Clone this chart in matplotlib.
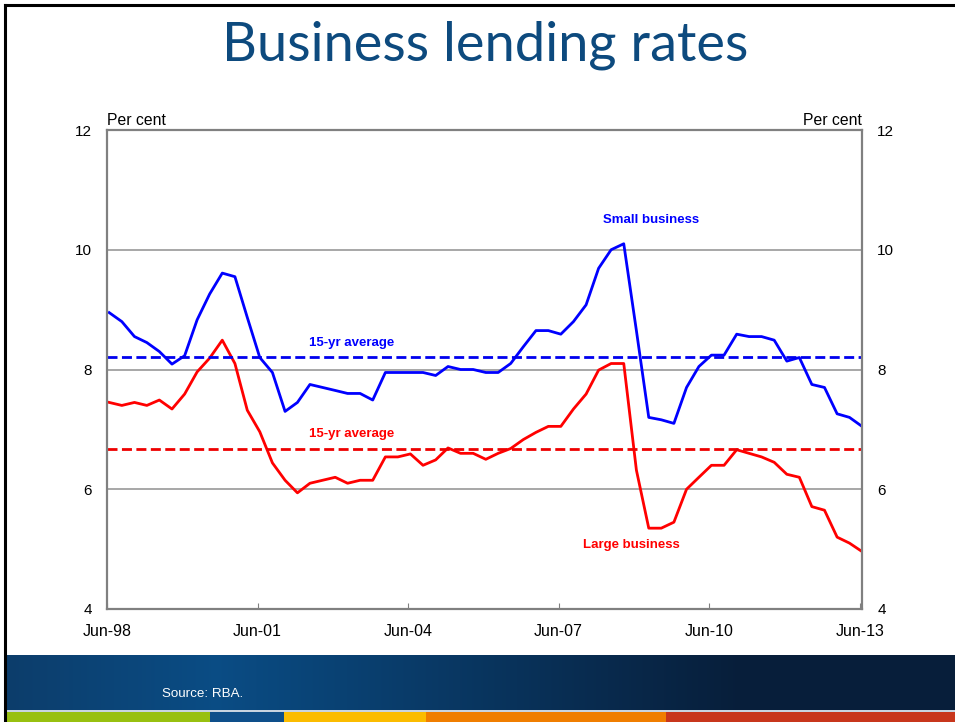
import numpy as np
import pandas as pd
import matplotlib
matplotlib.use('Agg')
import matplotlib.pyplot as plt
from matplotlib.patches import Rectangle
from matplotlib.lines import Line2D

# quarterly, Jun-98 to Jun-13
dates = pd.date_range('1998-06-15', periods=61, freq='3MS')

small_business = [8.95, 8.80, 8.55, 8.45, 8.30, 8.09, 8.23, 8.83, 9.26, 9.61,
                  9.55, 8.87, 8.20, 7.95, 7.30, 7.45, 7.75, 7.70, 7.65, 7.60,
                  7.60, 7.49, 7.95, 7.95, 7.95, 7.95, 7.90, 8.05, 8.00, 8.00,
                  7.95, 7.95, 8.10, 8.38, 8.65, 8.65, 8.59, 8.80, 9.08, 9.69,
                  10.00, 10.10, 8.65, 7.20, 7.16, 7.10, 7.70, 8.05, 8.24, 8.24,
                  8.59, 8.55, 8.55, 8.49, 8.14, 8.20, 7.75, 7.70, 7.26, 7.20,
                  7.05]
large_business = [7.45, 7.40, 7.45, 7.40, 7.49, 7.34, 7.59, 7.96, 8.19, 8.49,
                  8.10, 7.32, 6.96, 6.44, 6.15, 5.94, 6.10, 6.15, 6.20, 6.10,
                  6.15, 6.15, 6.54, 6.54, 6.59, 6.40, 6.49, 6.69, 6.60, 6.60,
                  6.50, 6.60, 6.68, 6.83, 6.95, 7.05, 7.05, 7.34, 7.59, 7.99,
                  8.10, 8.10, 6.32, 5.35, 5.35, 5.45, 6.00, 6.20, 6.40, 6.40,
                  6.66, 6.60, 6.54, 6.45, 6.25, 6.20, 5.71, 5.65, 5.20, 5.10,
                  4.96]
small_avg = 8.21
large_avg = 6.67

y_ticks = [4, 6, 8, 10, 12]
x_ticks = ['1998-06-15', '2001-06-15', '2004-06-15', '2007-06-15', '2010-06-15', '2013-06-15']
x_labels = ['Jun-98', 'Jun-01', 'Jun-04', 'Jun-07', 'Jun-10', 'Jun-13']

W, H = 955, 722
fig = plt.figure(figsize=(W / 100, H / 100), dpi=100)
fig.patch.set_facecolor('white')

# bottom band with gradient
band = fig.add_axes([7 / W, 1 - 710 / H, 1 - 7 / W, 55 / H])
gx = np.linspace(0, 1, 400)
c_left = np.array([0.05, 0.24, 0.42])
c_mid = np.array([0.04, 0.30, 0.52])
c_right = np.array([0.03, 0.12, 0.23])
grad = np.zeros((1, 400, 3))
for i, t in enumerate(gx):
    if t < 0.22:
        grad[0, i] = c_left + (c_mid - c_left) * (t / 0.22)
    else:
        grad[0, i] = c_mid + (c_right - c_mid) * min(1, (t - 0.22) / 0.55)
band.imshow(grad, aspect='auto', extent=[0, 1, 0, 1])
band.set_axis_off()
fig.text(162 / W, 1 - 694 / H, 'Source: RBA.', color='white', fontsize=9.6,
         family='Liberation Sans', va='center', ha='left')

# coloured strip
strip_edges = [7, 210, 284, 426, 666, 955]
strip_colors = ['#98c010', '#0e4f8a', '#fbbc00', '#f07e00', '#c8361c']
fig.add_artist(Rectangle((7 / W, 1 - 712 / H), 1 - 7 / W, 2 / H,
                         transform=fig.transFigure, color='#c8d4e0', lw=0))
for i in range(len(strip_colors)):
    fig.add_artist(Rectangle((strip_edges[i] / W, 0), (strip_edges[i + 1] - strip_edges[i]) / W,
                             10 / H, transform=fig.transFigure, color=strip_colors[i], lw=0))

# slide border
fig.add_artist(Line2D([5 / W, 5 / W], [0, 1 - 5 / H], transform=fig.transFigure, color='black', lw=2.2))
fig.add_artist(Line2D([5 / W, 1], [1 - 5 / H, 1 - 5 / H], transform=fig.transFigure, color='black', lw=2.2))

fig.text(485 / W, 1 - 60 / H, 'Business lending rates', color='#0d4a7e', fontsize=39,
         family='Lato', ha='center', va='baseline')

ax = fig.add_axes([107 / W, 1 - 609 / H, 755 / W, 479 / H])
ax.plot(dates, small_business, color='#0000ff', lw=2)
ax.plot(dates, large_business, color='#ff0000', lw=2)
ax.axhline(small_avg, color='#0000ee', lw=2, ls=(0, (3.6, 1.6)))
ax.axhline(large_avg, color='#ee0000', lw=2, ls=(0, (3.6, 1.6)))

ax.set_ylim(4, 12)
ax.set_xlim(dates[0], dates[-1])
ax.set_yticks(y_ticks)
ax.set_yticklabels([str(v) for v in y_ticks])
ax.set_xticks(pd.to_datetime(x_ticks))
ax.set_xticklabels(x_labels)
for v in [6, 8, 10]:
    ax.axhline(v, color='#a0a0a0', lw=1.3, zorder=0)
for s in ax.spines.values():
    s.set_color('#808080')
    s.set_linewidth(1.6)
ax.tick_params(axis='y', length=0, pad=11, labelsize=11, left=True, right=True,
               labelleft=True, labelright=True)
ax.tick_params(axis='x', direction='in', length=4, color='#808080', pad=11, labelsize=11.5)
for lbl in ax.get_xticklabels() + ax.get_yticklabels():
    lbl.set_family('Liberation Sans')

ax.text(0, 1.004, 'Per cent', transform=ax.transAxes, ha='left', va='bottom',
        fontsize=11.3, family='Liberation Sans')
ax.text(1, 1.004, 'Per cent', transform=ax.transAxes, ha='right', va='bottom',
        fontsize=11.3, family='Liberation Sans')

ax.text(pd.Timestamp('2009-04-15'), 10.49, 'Small business', color='#0000ff', fontsize=9.5,
        fontweight='bold', ha='center', va='center', family='Liberation Sans')
ax.text(pd.Timestamp('2003-04-28'), 8.45, '15-yr average', color='#0000ff', fontsize=9.5,
        fontweight='bold', ha='center', va='center', family='Liberation Sans')
ax.text(pd.Timestamp('2003-04-28'), 6.93, '15-yr average', color='#ff0000', fontsize=9.5,
        fontweight='bold', ha='center', va='center', family='Liberation Sans')
ax.text(pd.Timestamp('2008-11-25'), 5.07, 'Large business', color='#ff0000', fontsize=9.5,
        fontweight='bold', ha='center', va='center', family='Liberation Sans')

fig.savefig('out.png', dpi=100)
